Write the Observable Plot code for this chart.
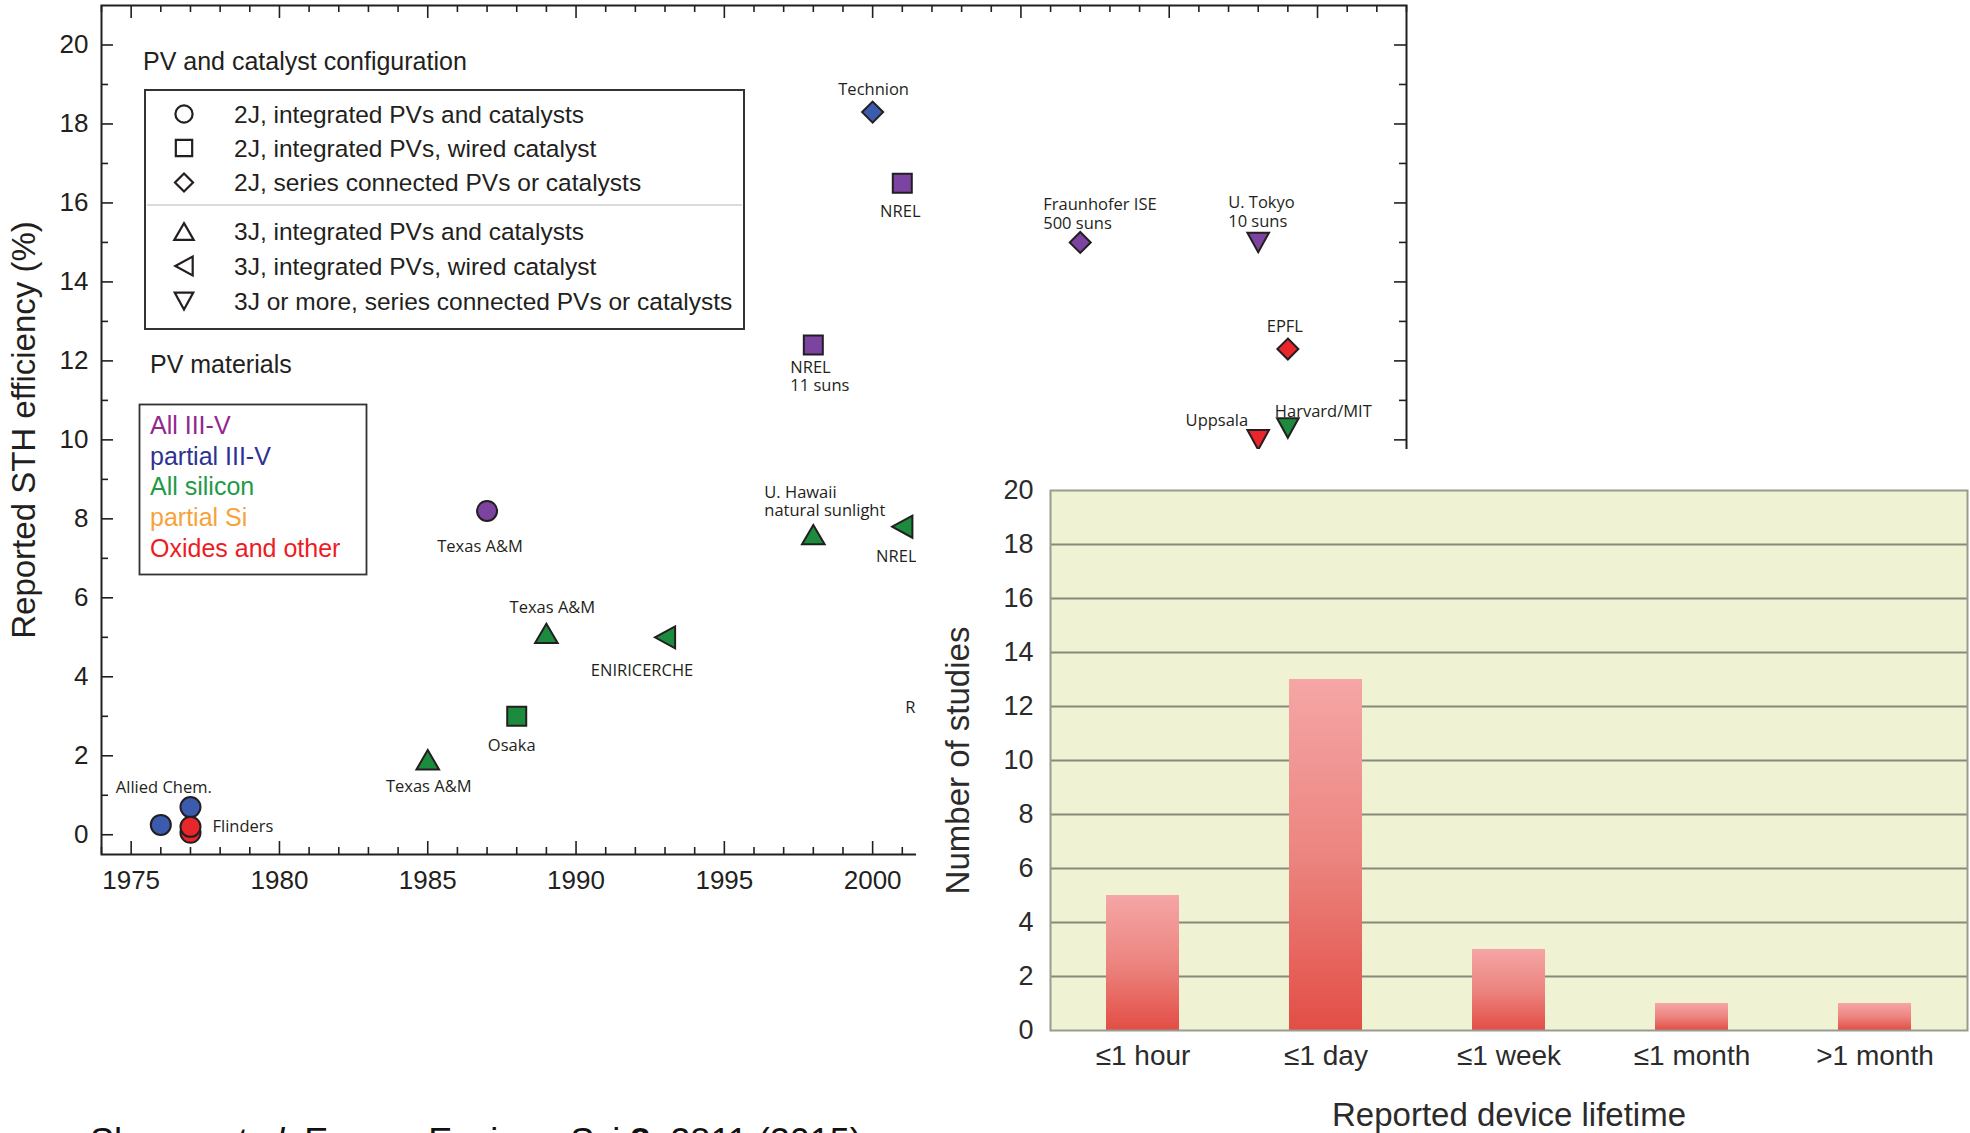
<!DOCTYPE html>
<html><head><meta charset="utf-8">
<script src="https://cdn.jsdelivr.net/npm/d3@7"></script>
<script src="https://cdn.jsdelivr.net/npm/@observablehq/plot@0.6"></script>
<style>
html,body{margin:0;padding:0;background:#fff;overflow:hidden;}
#root{position:relative;width:1970px;height:1133px;overflow:hidden;background:#fff;font-family:"Liberation Sans",Arial,Helvetica,sans-serif;}
#scatter{position:absolute;left:0;top:0;}
#legends{position:absolute;left:0;top:0;}
#panel{position:absolute;left:916px;top:449px;width:1054px;height:684px;background:#fff;}
#caption{position:absolute;left:90px;top:1124px;font-size:36px;line-height:36px;color:#111;white-space:nowrap;}
</style></head><body>
<div id="root">
  <div id="scatter"></div>
  <svg id="legends" width="800" height="600"></svg>
  <div id="panel"></div>
  <div id="caption">Shaner <i>et al.</i> Energy Environ. Sci <b>8</b>, 2811 (2015)</div>
</div>
<script>
// ---------------- DATA ----------------
const configNames = [
  "2J, integrated PVs and catalysts",
  "2J, integrated PVs, wired catalyst",
  "2J, series connected PVs or catalysts",
  "3J, integrated PVs and catalysts",
  "3J, integrated PVs, wired catalyst",
  "3J or more, series connected PVs or catalysts"
];
const materialNames = ["All III-V", "partial III-V", "All silicon", "partial Si", "Oxides and other"];

const years = [1976, 1977, 1977, 1977, 1985, 1987, 1988, 1989, 1993, 1998, 2001, 1998, 2000, 2001, 2007, 2013, 2014, 2013, 2014];
const efficiencies = [0.25, 0.7, 0.05, 0.2, 1.9, 8.2, 3.0, 5.1, 5.0, 7.6, 7.8, 12.4, 18.3, 16.5, 15.0, 15.0, 12.3, 10.0, 10.3];
const materials = ["partial III-V", "partial III-V", "Oxides and other", "Oxides and other", "All silicon", "All III-V", "All silicon", "All silicon", "All silicon", "All silicon", "All silicon", "All III-V", "partial III-V", "All III-V", "All III-V", "All III-V", "Oxides and other", "Oxides and other", "All silicon"];
const configIndex = [0, 0, 0, 0, 3, 0, 1, 3, 4, 3, 4, 1, 2, 1, 2, 5, 2, 5, 5];
const pointLabels = ["Allied Chem.", "", "", "Flinders", "Texas A&M", "Texas A&M", "Osaka", "Texas A&M", "ENIRICERCHE", "U. Hawaii\nnatural sunlight", "NREL", "NREL\n11 suns", "Technion", "NREL", "Fraunhofer ISE\n500 suns", "U. Tokyo\n10 suns", "EPFL", "Uppsala", "Harvard/MIT"];

// partially hidden annotation (label of a point hidden behind the inset)
const annotText = ["R"];
const annotYear = [2001.1];
const annotValue = [3.22];

const xMajorTicks = [1975, 1980, 1985, 1990, 1995, 2000, 2005, 2010, 2015];
const yMajorTicks = [0, 2, 4, 6, 8, 10, 12, 14, 16, 18, 20];

const lifetimeCats = ["≤1 hour", "≤1 day", "≤1 week", "≤1 month", ">1 month"];
const studyCounts = [5, 13, 3, 1, 1];
const barYTicks = [0, 2, 4, 6, 8, 10, 12, 14, 16, 18, 20];

// ---------------- STYLE / LAYOUT ----------------
const ink = "#231f20";
const pointFills = ["#7d43a0", "#3b5cae", "#1d8b3d", "#f6a23a", "#e8262b"];
const legendTextColors = ["#93278f", "#2e3192", "#1f9a45", "#f7a23b", "#ed1c24"];
const labelLayout = [
  {dx: 3, dy: -38, a: "middle"}, null, null, {dx: 22, dy: -1, a: "start"},
  {dx: 1, dy: 26, a: "middle"}, {dx: -7, dy: 35, a: "middle"}, {dx: -5, dy: 29, a: "middle"},
  {dx: 6, dy: -26, a: "middle"}, {dx: -23, dy: 33, a: "middle"}, {dx: -49, dy: -33.6, a: "start"},
  {dx: -6, dy: 29, a: "middle"}, {dx: -23, dy: 31, a: "start"}, {dx: 1, dy: -23, a: "middle"},
  {dx: -2, dy: 28, a: "middle"}, {dx: -37, dy: -29, a: "start"}, {dx: -30, dy: -31, a: "start"},
  {dx: -3, dy: -23, a: "middle"}, {dx: -10, dy: -20, a: "end"}, {dx: -13, dy: -16.5, a: "start"}
];

const poly = (pts) => ({draw(ctx, size) {
  const r = Math.sqrt(size / Math.PI);
  ctx.moveTo(pts[0][0] * r, pts[0][1] * r);
  for (let k = 1; k < pts.length; ++k) ctx.lineTo(pts[k][0] * r, pts[k][1] * r);
  ctx.closePath();
}});
const circleSym = {draw(ctx, size) { const r = Math.sqrt(size / Math.PI); ctx.moveTo(r, 0); ctx.arc(0, 0, r, 0, 2 * Math.PI); }};
const symbols = [
  circleSym,
  poly([[-0.95, -0.95], [0.95, -0.95], [0.95, 0.95], [-0.95, 0.95]]),
  poly([[0, -1.05], [1.05, 0], [0, 1.05], [-1.05, 0]]),
  poly([[0, -0.97], [1.13, 0.97], [-1.13, 0.97]]),
  poly([[-1.01, 0], [1.01, -1.1], [1.01, 1.1]]),
  poly([[0, 0.98], [1.08, -0.98], [-1.08, -0.98]])
];

// ---------------- SCATTER ----------------
const W = 1420, H = 900, mL = 101, mR = 14, mT = 5, mB = 46;
const fw = W - mL - mR, fh = H - mT - mB;
const xMinorTicks = d3.range(1974, 2019).filter(y => y % 5 !== 0);
const yMinorTicks = d3.range(1, 21, 2);

const pts = years.map((yr, i) => ({year: yr, eff: efficiencies[i], material: materials[i], config: configIndex[i], label: pointLabels[i], i}));

const tickStyle = {stroke: ink, strokeWidth: 1.6};
const labelMarks = pts.filter(d => labelLayout[d.i]).map(d => {
  const L = labelLayout[d.i];
  return Plot.text([d], {x: "year", y: "eff", text: "label", dx: L.dx, dy: L.dy, textAnchor: L.a,
    lineAnchor: "middle", lineHeight: 1.12, fontSize: 16.5, fontFamily: "Open Sans, sans-serif", fill: ink});
});

const scatter = Plot.plot({
  width: W, height: H, marginLeft: mL, marginRight: mR, marginTop: mT, marginBottom: mB,
  x: {domain: [1974, 2018]},
  y: {domain: [-0.5, 21]},
  color: {domain: materialNames, range: pointFills},
  style: {fontFamily: "Liberation Sans, Arial, sans-serif", fontSize: "26px", color: ink, background: "transparent", overflow: "visible"},
  marks: [
    Plot.tickX(xMajorTicks, {x: d => d, insetTop: fh - 13, ...tickStyle}),
    Plot.tickX(xMinorTicks, {x: d => d, insetTop: fh - 7, ...tickStyle}),
    Plot.tickX(xMajorTicks, {x: d => d, insetBottom: fh - 13, ...tickStyle}),
    Plot.tickX(xMinorTicks, {x: d => d, insetBottom: fh - 7, ...tickStyle}),
    Plot.tickY(yMajorTicks, {y: d => d, insetRight: fw - 12, ...tickStyle}),
    Plot.tickY(yMinorTicks, {y: d => d, insetRight: fw - 7, ...tickStyle}),
    Plot.tickY(yMajorTicks, {y: d => d, insetLeft: fw - 12, ...tickStyle}),
    Plot.tickY(yMinorTicks, {y: d => d, insetLeft: fw - 7, ...tickStyle}),
    Plot.frame({stroke: ink, strokeWidth: 2}),
    Plot.axisX({ticks: xMajorTicks, tickSize: 0, tickPadding: 16, tickFormat: d => String(d), label: null}),
    Plot.axisY({ticks: yMajorTicks, tickSize: 0, tickPadding: 13, label: null}),
    Plot.text(["Reported STH efficiency (%)"], {text: d => d, frameAnchor: "left", textAnchor: "middle", lineAnchor: "middle", rotate: -90, dx: -76.6, fontSize: 33, fill: ink}),
    ...symbols.map((s, c) => Plot.dot(pts, {filter: d => d.config === c, x: "year", y: "eff", r: 10, symbol: s, fill: "material", stroke: ink, strokeWidth: 2})),
    ...labelMarks,
    Plot.text(annotText, {x: (d, i) => annotYear[i], y: (d, i) => annotValue[i], text: d => d, textAnchor: "start", fontSize: 16.5, fontFamily: "Open Sans, sans-serif", fill: ink})
  ]
});
document.getElementById("scatter").appendChild(scatter);

// ---------------- LEGENDS (inside scatter frame) ----------------
const lg = d3.select("#legends").style("font-family", "Liberation Sans, Arial, sans-serif");
lg.append("text").attr("x", 143).attr("y", 70).attr("font-size", 25).attr("fill", ink).text("PV and catalyst configuration");
lg.append("rect").attr("x", 145).attr("y", 90).attr("width", 599).attr("height", 239).attr("fill", "#fff").attr("stroke", "#333").attr("stroke-width", 2);
lg.append("line").attr("x1", 147).attr("x2", 742).attr("y1", 205).attr("y2", 205).attr("stroke", "#cfcfcf").attr("stroke-width", 1.5);
const rowY = [114, 148, 182.5, 231.5, 266, 301];
configNames.forEach((name, c) => {
  const p = d3.path();
  symbols[c].draw(p, Math.PI * 8.6 * 8.6);
  lg.append("path").attr("d", p.toString()).attr("transform", `translate(184,${rowY[c]})`)
    .attr("fill", "#fff").attr("stroke", ink).attr("stroke-width", 2.2);
  lg.append("text").attr("x", 234).attr("y", rowY[c] + 8.8).attr("font-size", 24.5).attr("fill", ink).text(name);
});
lg.append("text").attr("x", 150).attr("y", 373).attr("font-size", 25).attr("fill", ink).text("PV materials");
lg.append("rect").attr("x", 139.5).attr("y", 404.5).attr("width", 227).attr("height", 170).attr("fill", "#fff").attr("stroke", "#333").attr("stroke-width", 1.8);
const matBase = [434.3, 464.7, 495.3, 526, 556.7];
materialNames.forEach((m, k) => {
  lg.append("text").attr("x", 150).attr("y", matBase[k]).attr("font-size", 25).attr("fill", legendTextColors[k]).text(m);
});

// ---------------- BAR CHART (inset) ----------------
const lifetimeTable = lifetimeCats.map((c, i) => ({cat: c, n: studyCounts[i]}));
const gradientDefs = () => {
  const g = document.createElementNS("http://www.w3.org/2000/svg", "g");
  g.innerHTML = `<defs><linearGradient id="barGrad" x1="0" y1="0" x2="0" y2="1">
    <stop offset="0" stop-color="#f5a6a6"/><stop offset="0.5" stop-color="#ec8580"/><stop offset="1" stop-color="#e24e46"/>
  </linearGradient></defs>`;
  return g;
};
const bars = Plot.plot({
  width: 1054, height: 684, marginLeft: 134, marginRight: 3, marginTop: 41, marginBottom: 103,
  x: {domain: lifetimeCats, paddingInner: 0.6, paddingOuter: 0.3, label: null},
  y: {domain: [0, 20], label: null},
  style: {fontFamily: "Liberation Sans, Arial, sans-serif", fontSize: "27px", color: "#2b2b2b", background: "transparent"},
  marks: [
    gradientDefs,
    Plot.frame({fill: "#eff3d3", stroke: null}),
    Plot.ruleY(barYTicks.filter(v => v > 0 && v < 20), {y: d => d, stroke: "#878979", strokeWidth: 2.2}),
    Plot.barY(lifetimeTable, {x: "cat", y: "n", fill: "url(#barGrad)"}),
    Plot.frame({stroke: "#9a9b8e", strokeWidth: 2}),
    Plot.axisY({ticks: barYTicks, tickSize: 0, tickPadding: 17, label: null}),
    Plot.axisX({tickSize: 0, tickPadding: 15, fontSize: 28, label: null}),
    Plot.text(["Number of studies"], {text: d => d, frameAnchor: "left", textAnchor: "middle", lineAnchor: "middle", rotate: -90, dx: -92, fontSize: 33, fill: "#2b2b2b"}),
    Plot.text(["Reported device lifetime"], {text: d => d, frameAnchor: "bottom", textAnchor: "middle", lineAnchor: "middle", dy: 84.5, fontSize: 33, fill: "#2b2b2b"})
  ]
});
document.getElementById("panel").appendChild(bars);
</script>
</body></html>
